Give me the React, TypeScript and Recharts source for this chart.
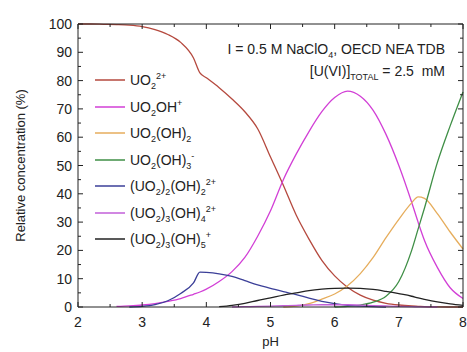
import { LineChart, Line, XAxis, YAxis } from 'recharts';

const PH = [2.0, 2.2, 2.4, 2.6, 2.8, 3.0, 3.2, 3.4, 3.6, 3.8, 3.9, 4.0, 4.2, 4.4, 4.6, 4.8, 5.0, 5.2, 5.4, 5.6, 5.8, 6.0, 6.2, 6.4, 6.6, 6.8, 7.0, 7.2, 7.3, 7.4, 7.6, 7.8, 8.0];

const UO2 = [100, 100, 99.9, 99.8, 99.6, 99.1, 98.0, 96.3, 93.5, 88, 82.7, 81, 77.5, 73.5, 69, 63, 53, 43, 32.5, 24, 16.5, 11, 7, 4.2, 2.4, 1.3, 0.7, 0.35, 0.25, 0.15, 0.05, 0, 0];
const UO2OH = [null, null, null, 0.2, 0.4, 0.7, 1.2, 2, 3, 4.5, 5.3, 6.3, 9, 12.5, 17.5, 25, 34, 45, 54, 62, 69, 74, 76.3, 74.5, 69.5, 61, 50, 37, 30, 23.5, 14, 6.8, 3];
const UO2OH2 = [null, null, null, null, null, null, null, null, null, null, null, null, null, null, null, null, null, 0, 0.3, 1.2, 2.8, 4.6, 7.5, 11.8, 17.5, 24.5, 31, 36.8, 38.9, 38.4, 33, 26.5, 20.5];
const UO2OH3 = [null, null, null, null, null, null, null, null, null, null, null, null, null, null, null, null, null, null, null, null, null, 0, 0.2, 0.7, 1.7, 3.8, 9, 20, 27.5, 35, 51, 64, 76];
const UO22OH2 = [null, null, null, null, 0, 0.2, 0.8, 2.2, 4.8, 8.5, 12.3, 12.2, 11.7, 10.8, 9.3, 7.8, 6.6, 5.4, 4.4, 3.1, 2, 1.2, 0.6, 0.3, 0.1, 0, null, null, null, null, null, null, null];
const UO23OH4 = [null, null, null, null, null, null, null, null, null, null, null, null, null, 0, 0.1, 0.2, 0.3, 0.45, 0.6, 0.7, 0.8, 0.8, 0.8, 0.65, 0.5, 0.35, 0.2, 0.1, 0.07, 0.05, 0, null, null];
const UO23OH5 = [null, null, null, null, null, null, null, null, null, null, null, null, 0.1, 0.6, 1.3, 2.3, 3.2, 4.2, 5.0, 5.8, 6.3, 6.6, 6.7, 6.6, 6.2, 5.5, 4.7, 3.8, 3.2, 2.7, 1.8, 1.1, 0.6];

const X_TICKS = [2, 2.5, 3, 3.5, 4, 4.5, 5, 5.5, 6, 6.5, 7, 7.5, 8];
const Y_TICKS = [0, 5, 10, 15, 20, 25, 30, 35, 40, 45, 50, 55, 60, 65, 70, 75, 80, 85, 90, 95, 100];

const data = PH.map((ph, i) => ({
  ph,
  uo2: UO2[i],
  uo2oh: UO2OH[i],
  uo2oh2: UO2OH2[i],
  uo2oh3: UO2OH3[i],
  uo22oh2: UO22OH2[i],
  uo23oh4: UO23OH4[i],
  uo23oh5: UO23OH5[i],
}));

const FONT = '"Liberation Sans", Arial, sans-serif';
const AXIS = '#222';

const SERIES = [
  { key: 'uo2', color: '#b5493e', label: <>UO<sub>2</sub><sup>2+</sup></> },
  { key: 'uo2oh', color: '#d23fd6', label: <>UO<sub>2</sub>OH<sup>+</sup></> },
  { key: 'uo2oh2', color: '#e6ad5c', label: <>UO<sub>2</sub>(OH)<sub>2</sub></> },
  { key: 'uo2oh3', color: '#3f8f46', label: <>UO<sub>2</sub>(OH)<sub>3</sub><sup>-</sup></> },
  { key: 'uo22oh2', color: '#3b3f98', label: <>(UO<sub>2</sub>)<sub>2</sub>(OH)<sub>2</sub><sup>2+</sup></> },
  { key: 'uo23oh4', color: '#c25fd8', label: <>(UO<sub>2</sub>)<sub>3</sub>(OH)<sub>4</sub><sup>2+</sup></> },
  { key: 'uo23oh5', color: '#222222', label: <>(UO<sub>2</sub>)<sub>3</sub>(OH)<sub>5</sub><sup>+</sup></> },
];

const isMinor = (v: number, step: number) => Math.abs(v / step - Math.round(v / step)) > 1e-6;

function BottomTick({ x, y, payload }: any) {
  const minor = isMinor(payload.value, 1);
  return (
    <g>
      <line x1={x} y1={y} x2={x} y2={y - (minor ? 3 : 5)} stroke={AXIS} />
      {!minor && (
        <text x={x} y={y + 20} textAnchor="middle" fontSize={14} fontFamily={FONT} fill="#222">
          {payload.value}
        </text>
      )}
    </g>
  );
}

function TopTick({ x, y, payload }: any) {
  const minor = isMinor(payload.value, 1);
  return <line x1={x} y1={y} x2={x} y2={y + (minor ? 3 : 5)} stroke={AXIS} />;
}

function LeftTick({ x, y, payload }: any) {
  const minor = isMinor(payload.value, 10);
  return (
    <g>
      <line x1={x} y1={y} x2={x + (minor ? 3 : 5)} y2={y} stroke={AXIS} />
      {!minor && (
        <text x={x - 6} y={y + 5} textAnchor="end" fontSize={14} fontFamily={FONT} fill="#222">
          {payload.value}
        </text>
      )}
    </g>
  );
}

function RightTick({ x, y, payload }: any) {
  const minor = isMinor(payload.value, 10);
  return <line x1={x} y1={y} x2={x - (minor ? 3 : 5)} y2={y} stroke={AXIS} />;
}

export default function App() {
  return (
    <div style={{ position: 'absolute', left: 0, top: 0, width: 467, height: 352, background: '#fff', fontFamily: FONT }}>
      <LineChart width={467} height={352} data={data} margin={{ top: 23, right: 3, left: 0, bottom: 0 }}>
        <XAxis
          dataKey="ph"
          type="number"
          domain={[2, 8]}
          ticks={X_TICKS}
          interval={0}
          height={45}
          tickSize={0}
          tickMargin={0}
          tick={<BottomTick />}
          stroke={AXIS}
          label={{ value: 'pH', position: 'insideBottom', offset: 6, fontSize: 13, fill: '#222', fontFamily: FONT }}
        />
        <XAxis
          xAxisId="top"
          dataKey="ph"
          orientation="top"
          type="number"
          domain={[2, 8]}
          allowDataOverflow
          ticks={X_TICKS}
          interval={0}
          height={1}
          tickSize={0}
          tickMargin={0}
          tick={<TopTick />}
          stroke={AXIS}
        />
        <YAxis
          type="number"
          domain={[0, 100]}
          ticks={Y_TICKS}
          interval={0}
          width={78}
          tickSize={0}
          tickMargin={0}
          tick={<LeftTick />}
          stroke={AXIS}
          label={{
            value: 'Relative concentration (%)',
            angle: -90,
            position: 'insideLeft',
            offset: 20,
            fontSize: 13,
            fill: '#222',
            fontFamily: FONT,
            style: { textAnchor: 'middle' },
          }}
        />
        <YAxis
          yAxisId="right"
          orientation="right"
          type="number"
          domain={[0, 100]}
          allowDataOverflow
          ticks={Y_TICKS}
          interval={0}
          width={1}
          tickSize={0}
          tickMargin={0}
          tick={<RightTick />}
          stroke={AXIS}
        />
        {/* invisible series so the frame axes (top/right) get drawn */}
        <Line
          xAxisId="top"
          yAxisId="right"
          dataKey="uo2"
          stroke="none"
          dot={false}
          activeDot={false}
          isAnimationActive={false}
        />
        {SERIES.map((s) => (
          <Line
            key={s.key}
            type="monotone"
            dataKey={s.key}
            stroke={s.color}
            strokeWidth={1.3}
            dot={false}
            isAnimationActive={false}
          />
        ))}
      </LineChart>

      <div style={{ position: 'absolute', right: 22, top: 38, textAlign: 'right', fontSize: 14, color: '#222', lineHeight: '22px' }}>
        <div>
          I = 0.5 M NaClO<sub>4</sub>, OECD NEA TDB
        </div>
        <div>
          [U(VI)]<sub>TOTAL</sub> = 2.5&nbsp; mM
        </div>
      </div>

      {SERIES.map((s, i) => (
        <div
          key={s.key}
          style={{
            position: 'absolute',
            left: 95,
            top: 80 + i * 26.5 - 10,
            height: 20,
            display: 'flex',
            alignItems: 'center',
            fontSize: 14,
            color: '#222',
            whiteSpace: 'nowrap',
          }}
        >
          <svg width={30} height={4} style={{ marginRight: 5 }}>
            <line x1={0} y1={2} x2={30} y2={2} stroke={s.color} strokeWidth={1.5} />
          </svg>
          <span style={{ lineHeight: '20px' }}>{s.label}</span>
        </div>
      ))}
      <style>{`sub, sup { font-size: 9px; line-height: 0; }`}</style>
    </div>
  );
}
